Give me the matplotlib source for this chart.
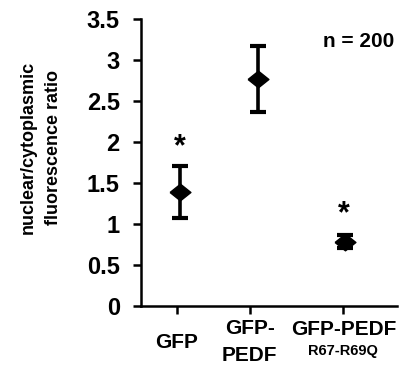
import matplotlib as mpl
mpl.use('Agg')
import matplotlib.pyplot as plt
import numpy as np

groups = ['GFP', 'GFP-PEDF', 'GFP-PEDF R67-R69Q']
means = [1.39, 2.77, 0.78]
errors = [0.32, 0.40, 0.08]
stars = [True, False, True]
star_heights = [1.93, None, 1.12]
yticks = [0, 0.5, 1, 1.5, 2, 2.5, 3, 3.5]
ytick_labels = ['0', '0.5', '1', '1.5', '2', '2.5', '3', '3.5']

# category positions on the x axis (ticks and markers are slightly off in the original)
tick_pos = [0.49, 1.49, 2.77]
mark_pos = [0.54, 1.6, 2.79]

plt.rcParams['font.family'] = ['Liberation Sans', 'DejaVu Sans']
plt.rcParams['font.weight'] = 'bold'

fig = plt.figure(figsize=(4.10, 3.69), dpi=100)
ax = fig.add_axes([0.343, 0.171, 0.625, 0.778])

diamond = [(-1, 0), (0, 0.8), (1, 0), (0, -0.8), (-1, 0)]
ax.errorbar(mark_pos, means, yerr=errors, fmt='none', ecolor='black',
            elinewidth=2.6, capsize=6, capthick=3, zorder=2)
ax.plot(mark_pos, means, linestyle='none', marker=diamond, markersize=15,
        color='black', zorder=3)

for x, s, h in zip(mark_pos, stars, star_heights):
    if s:
        ax.text(x - 0.01, h, '*', ha='center', va='center', fontsize=22,
                fontweight='bold')

ax.text(3.47, 3.22, 'n = 200', ha='right', va='center', fontsize=15,
        fontweight='bold')

ax.set_xlim(0, 3.5)
ax.set_ylim(0, 3.5)
ax.set_yticks(yticks)
ax.set_yticklabels(ytick_labels, fontsize=17, fontweight='bold')
ax.set_xticks(tick_pos)
ax.set_xticklabels([])

for sp in ['top', 'right']:
    ax.spines[sp].set_visible(False)
for sp in ['left', 'bottom']:
    ax.spines[sp].set_linewidth(1.8)
ax.tick_params(axis='both', direction='out', length=6, width=1.8, pad=9)

# x labels under the axis
ax.text(tick_pos[0], -0.45, 'GFP', ha='center', va='center', fontsize=15,
        fontweight='bold', clip_on=False)
ax.text(tick_pos[1], -0.28, 'GFP-', ha='center', va='center', fontsize=15,
        fontweight='bold', clip_on=False)
ax.text(tick_pos[1], -0.61, 'PEDF', ha='center', va='center', fontsize=15,
        fontweight='bold', clip_on=False)
ax.text(tick_pos[2], -0.29, 'GFP-PEDF', ha='center', va='center', fontsize=15,
        fontweight='bold', clip_on=False)
ax.text(tick_pos[2], -0.55, 'R67-R69Q', ha='center', va='center', fontsize=10.5,
        fontweight='bold', clip_on=False)

fig.text(0.068, 0.6, 'nuclear/cytoplasmic', rotation=90, ha='center',
         va='center', fontsize=13, fontweight='bold')
fig.text(0.13, 0.6, 'fluorescence ratio', rotation=90, ha='center',
         va='center', fontsize=13, fontweight='bold')

plt.savefig('out.png', dpi=100)
plt.close()
